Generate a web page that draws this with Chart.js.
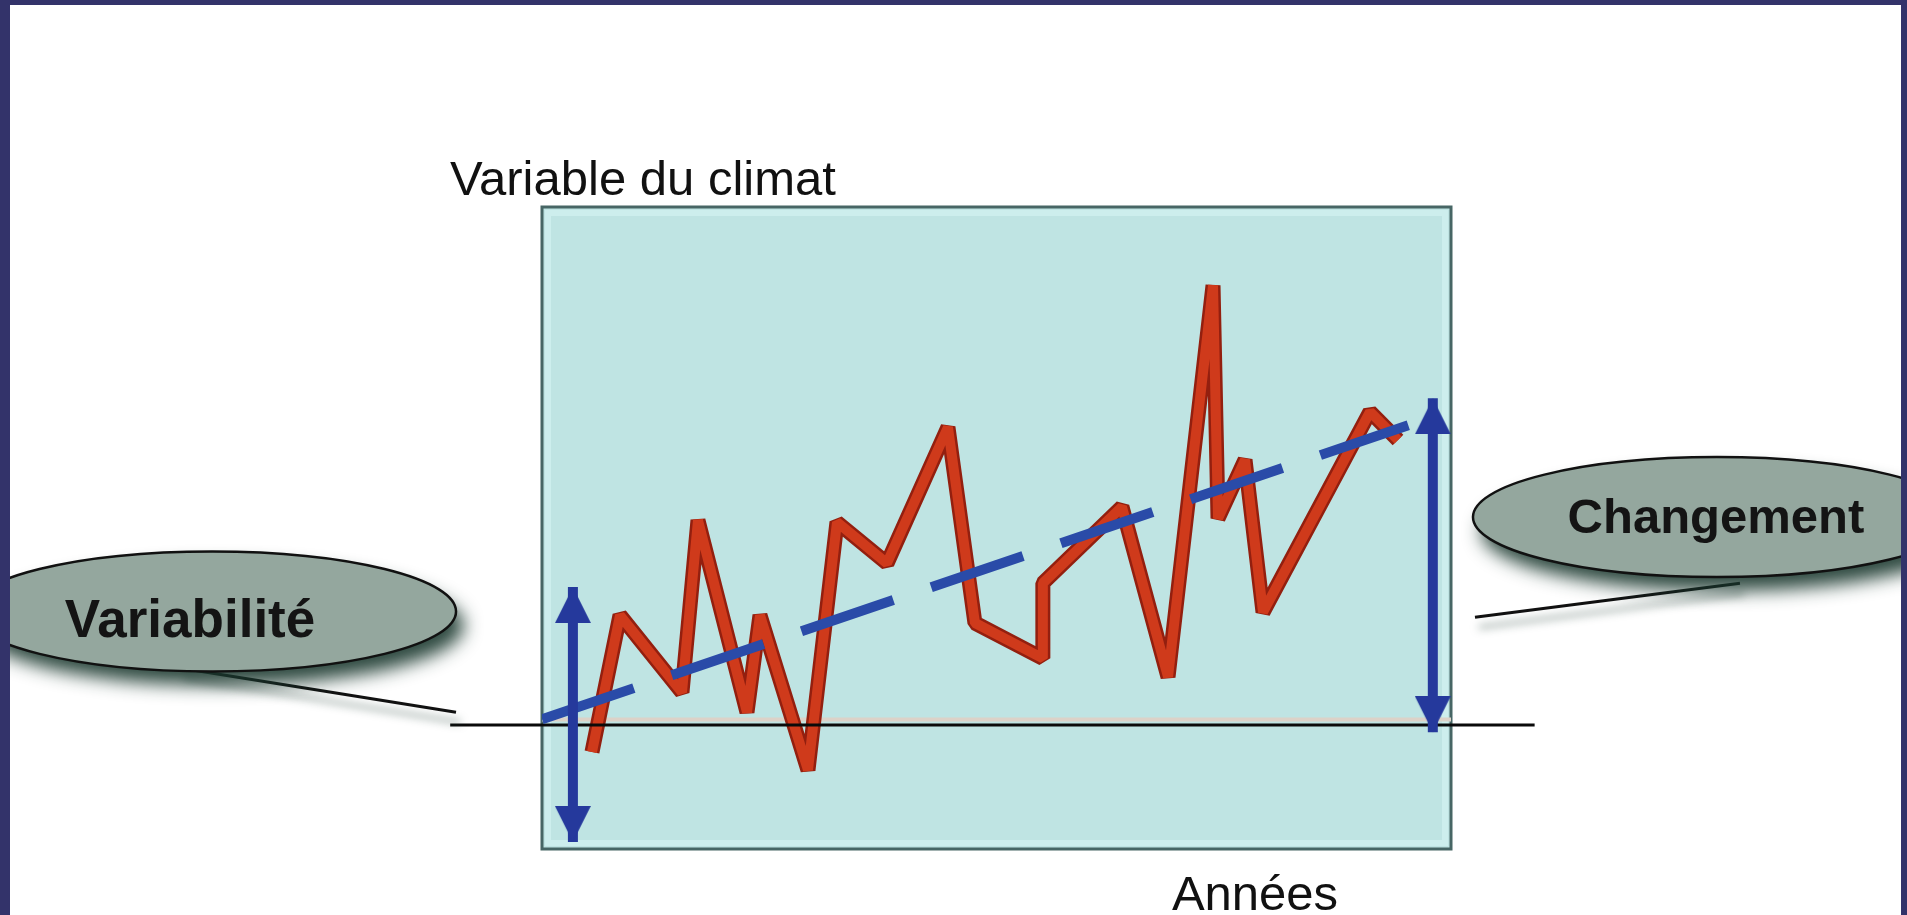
<!DOCTYPE html>
<html>
<head>
<meta charset="utf-8">
<script src="https://cdn.jsdelivr.net/npm/chart.js@4.4.1/dist/chart.umd.min.js"></script>
<style>
html,body{margin:0;padding:0;background:#ffffff;overflow:hidden}
canvas{display:block}
</style>
</head>
<body>
<canvas id="c" width="1907" height="915"></canvas>
<script>
// ---- data ----
const years  = [5.5, 8.58, 15.4, 17.16, 22.55, 23.98, 29.26, 32.45, 37.95, 44.66, 47.63, 55.1, 55.1, 63.8, 68.87, 73.82, 74.37, 77.34, 79.32, 91.09, 94.17];
const values = [-0.42, 1.71, 0.51, 3.19, 0.20, 1.71, -0.70, 3.16, 2.52, 4.64, 1.59, 1.04, 2.21, 3.40, 0.75, 6.85, 3.22, 4.13, 1.76, 4.88, 4.44];
const trendX = [0, 95.3];
const trendY = [0.09, 4.67];
const baselineX = [-10.1, 109.2];
const baselineY = [0, 0];
const refLineX = [0, 100];
const refLineY = [0.086, 0.086];
const arrowLeftX = [3.4, 3.4];
const arrowLeftY = [2.15, -1.82];
const arrowRightX = [98.0, 98.0];
const arrowRightY = [5.09, -0.11];
const xRange = [0, 100];
const yRange = [-1.93, 8.07];
const axisLabels = [
  {text: 'Variable du climat', x: -10.12, y: 8.26, align: 'left'},
  {text: 'Années', x: 78.44, y: -2.88, align: 'center'}
];
const callouts = [
  {text: 'Variabilité', ex: -36.3, ey: 1.77, tx: -38.72, ty: 1.37, size: 53, leader: [-39.82, 0.89, -9.46, 0.20]},
  {text: 'Changement', ex: 129.26, ey: 3.24, tx: 129.15, ty: 2.99, size: 49, leader: [102.64, 1.68, 131.79, 2.21]}
];

const pts = (xs, ys) => xs.map((x, i) => ({x: x, y: ys[i]}));

function arrowHead(w, h, color) {
  const c = document.createElement('canvas');
  c.width = w; c.height = 2 * h;
  const g = c.getContext('2d');
  g.fillStyle = color;
  g.beginPath();
  g.moveTo(w / 2, h);
  g.lineTo(w, 2 * h);
  g.lineTo(0, 2 * h);
  g.closePath();
  g.fill();
  return c;
}
const ARROW_COLOR = '#25399c';
const head = arrowHead(36, 36, ARROW_COLOR);

const decor = {
  id: 'decor',
  beforeDraw(chart) {
    const {ctx, chartArea: a} = chart;
    ctx.save();
    ctx.fillStyle = '#ffffff';
    ctx.fillRect(0, 0, chart.width, chart.height);
    ctx.fillStyle = '#bfe4e3';
    ctx.fillRect(a.left, a.top, a.right - a.left, a.bottom - a.top);
    ctx.strokeStyle = '#cdeeed';
    ctx.lineWidth = 6;
    ctx.strokeRect(a.left + 6, a.top + 6, a.right - a.left - 12, a.bottom - a.top - 12);
    ctx.strokeStyle = '#476665';
    ctx.lineWidth = 3;
    ctx.strokeRect(a.left, a.top, a.right - a.left, a.bottom - a.top);
    ctx.restore();
  },
  afterDraw(chart) {
    const {ctx} = chart;
    const sx = v => chart.scales.x.getPixelForValue(v);
    const sy = v => chart.scales.y.getPixelForValue(v);
    ctx.save();
    // axis labels
    ctx.fillStyle = '#111111';
    ctx.font = '49px "Liberation Sans", Arial, sans-serif';
    ctx.textBaseline = 'alphabetic';
    axisLabels.forEach(l => {
      ctx.textAlign = l.align;
      ctx.fillText(l.text, sx(l.x), sy(l.y));
    });
    // callouts
    callouts.forEach(c => {
      ctx.save();
      ctx.shadowColor = 'rgba(30,60,50,0.55)';
      ctx.shadowBlur = 8; ctx.shadowOffsetX = 4; ctx.shadowOffsetY = 10;
      ctx.strokeStyle = '#111111'; ctx.lineWidth = 3;
      ctx.beginPath();
      ctx.moveTo(sx(c.leader[0]), sy(c.leader[1]));
      ctx.lineTo(sx(c.leader[2]), sy(c.leader[3]));
      ctx.stroke();
      ctx.restore();

      const cx = sx(c.ex), cy = sy(c.ey);
      ctx.save();
      ctx.shadowColor = 'rgba(25,55,45,0.9)';
      ctx.shadowBlur = 18; ctx.shadowOffsetX = 8; ctx.shadowOffsetY = 14;
      ctx.fillStyle = '#94a79e';
      ctx.beginPath();
      ctx.ellipse(cx, cy, 244, 60, 0, 0, Math.PI * 2);
      ctx.fill();
      ctx.restore();
      ctx.strokeStyle = '#111111'; ctx.lineWidth = 2.5;
      ctx.beginPath();
      ctx.ellipse(cx, cy, 244, 60, 0, 0, Math.PI * 2);
      ctx.stroke();

      ctx.fillStyle = '#141414';
      ctx.font = 'bold ' + c.size + 'px "Liberation Sans", Arial, sans-serif';
      ctx.textAlign = 'center';
      ctx.fillText(c.text, sx(c.tx), sy(c.ty));
    });
    // page frame
    ctx.fillStyle = '#33336a';
    ctx.fillRect(0, 0, 10, chart.height);
    ctx.fillRect(0, 0, chart.width, 5);
    ctx.fillRect(chart.width - 6, 0, 6, chart.height);
    ctx.restore();
  }
};

new Chart(document.getElementById('c'), {
  type: 'line',
  data: {
    datasets: [
      {label: 'arrowL', data: pts(arrowLeftX, arrowLeftY), borderColor: ARROW_COLOR, borderWidth: 10, borderCapStyle: 'butt',
       pointStyle: head, pointRadius: 5, pointRotation: [0, 180], clip: false, order: 0},
      {label: 'arrowR', data: pts(arrowRightX, arrowRightY), borderColor: ARROW_COLOR, borderWidth: 10, borderCapStyle: 'butt',
       pointStyle: head, pointRadius: 5, pointRotation: [0, 180], clip: false, order: 0},
      {label: 'tendance', data: pts(trendX, trendY), borderColor: '#2a4ba8', borderWidth: 10, borderDash: [97, 40],
       borderCapStyle: 'butt', pointRadius: 0, order: 1},
      {label: 'base', data: pts(baselineX, baselineY), borderColor: '#0a0a0a', borderWidth: 3, pointRadius: 0, clip: false, order: 2},
      {label: 'serie', data: pts(years, values), borderColor: '#cf3a1b', borderWidth: 10, borderJoinStyle: 'bevel',
       borderCapStyle: 'butt', pointRadius: 0, order: 3},
      {label: 'serieContour', data: pts(years, values), borderColor: '#931f0f', borderWidth: 15, borderJoinStyle: 'bevel',
       borderCapStyle: 'butt', pointRadius: 0, order: 4},
      {label: 'ref', data: pts(refLineX, refLineY), borderColor: '#dcd2c8', borderWidth: 4, pointRadius: 0, order: 5}
    ]
  },
  options: {
    responsive: false,
    animation: false,
    devicePixelRatio: 1,
    layout: {padding: {left: 542, top: 207, right: 456, bottom: 66}},
    elements: {line: {tension: 0}},
    scales: {
      x: {type: 'linear', min: xRange[0], max: xRange[1], display: false},
      y: {type: 'linear', min: yRange[0], max: yRange[1], display: false}
    },
    plugins: {legend: {display: false}, tooltip: {enabled: false}, title: {display: false}}
  },
  plugins: [decor]
});
</script>
</body>
</html>
